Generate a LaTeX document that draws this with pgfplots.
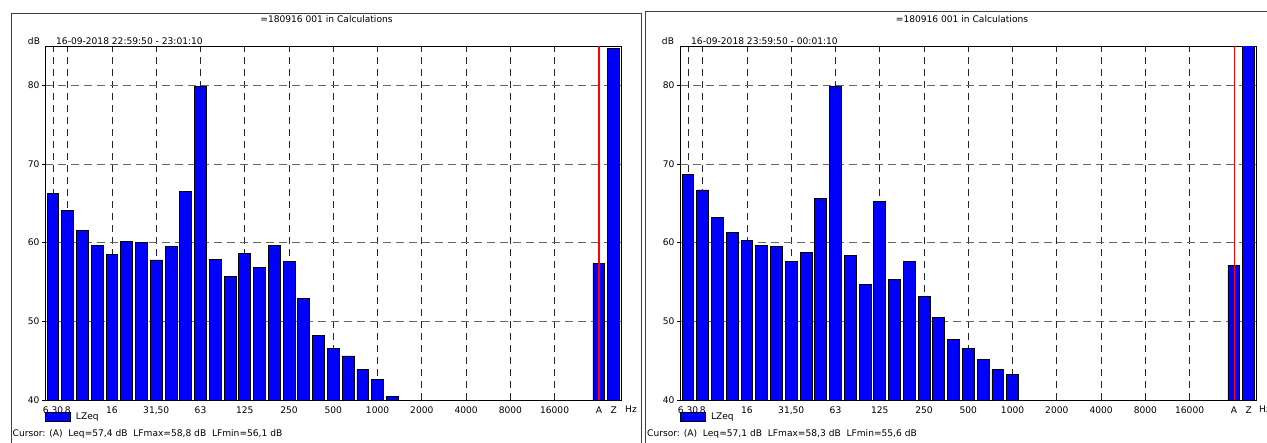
\documentclass[border=0pt]{standalone}
\usepackage{fontspec}
\setmainfont{DejaVu Sans}
\usepackage{pgfplots}
\pgfplotsset{compat=1.18}
\newcommand\f{\fontsize{9.1}{10.5}\selectfont}
\definecolor{barblue}{RGB}{0,0,255}
\definecolor{cursorred}{RGB}{255,0,0}
\pgfplotsset{
  spec/.style={
    scale only axis, width=576pt, height=354pt,
    xmin=-0.54, xmax=38.5, ymin=40, ymax=85,
    axis line style={black, line width=0.9pt},
    xtick={0,1,4,7,10,13,16,19,22,25,28,31,34},
    xticklabels={{6,30},8,16,{31,50},63,125,250,500,1000,2000,4000,8000,16000},
    extra x ticks={37,38}, extra x tick labels={A,Z},
    extra x tick style={grid=none},
    ytick={40,50,60,70,80},
    xmajorgrids, ymajorgrids,
    major x grid style={black!85, line width=0.9pt, dash pattern=on 7pt off 5pt},
    major y grid style={black!60, line width=0.9pt, dash pattern=on 8pt off 5pt},
    xtick style={draw=none},
    ytick style={black, line width=0.8pt},
    tick align=outside, major tick length=3pt,
    ytick pos=left,
    ticklabel style={font=\f},
    yticklabel style={xshift=1pt},
    /pgf/number format/assume math mode=true,
    legend style={at={(0,0)}, anchor=north west, yshift=-12pt, draw=none, fill=none,
      inner sep=0pt, font=\f, nodes={inner sep=1pt},
      /tikz/every odd column/.append style={column sep=4pt}},
  },
  bars/.style={ybar, bar width=0.8, bar shift=0pt, fill=barblue, draw=black, line width=0.8pt,
    legend image code/.code={\draw[fill=barblue,draw=black,line width=0.8pt] (0pt,-4.5pt) rectangle (25pt,4.5pt);}},
}
\begin{document}
\begin{tikzpicture}
\useasboundingbox (0pt,0pt) rectangle (1267pt,442pt);
\begin{scope}
\clip (0pt,0pt) rectangle (1267pt,442pt);
% frames
\draw[black!75, line width=0.9pt] (11pt,-5pt) -- (11pt,429pt) -- (641.7pt,429pt) -- (641.7pt,-5pt);
\draw[black!75, line width=0.9pt] (645pt,-5pt) -- (645pt,430.3pt) -- (1276pt,430.3pt) -- (1276pt,-5pt);

\begin{axis}[spec, at={(45pt,42pt)}, anchor=south west]
\addplot[bars] coordinates {
(0,66.3) (1,64.1) (2,61.6) (3,59.7) (4,58.5) (5,60.1) (6,60.0) (7,57.8) (8,59.5) (9,66.5)
(10,79.9) (11,57.9) (12,55.7) (13,58.6) (14,56.9) (15,59.7) (16,57.6) (17,52.9) (18,48.2)
(19,46.6) (20,45.6) (21,43.9) (22,42.6) (23,40.5) (37,57.4) (38,84.7)};
\addlegendentry{LZeq}
\addplot[draw=cursorred, line width=1.3pt, forget plot] coordinates {(37,40) (37,85)};
\end{axis}

\begin{axis}[spec, at={(680pt,42pt)}, anchor=south west]
\addplot[bars] coordinates {
(0,68.7) (1,66.7) (2,63.2) (3,61.3) (4,60.3) (5,59.7) (6,59.5) (7,57.6) (8,58.7) (9,65.6)
(10,79.9) (11,58.4) (12,54.7) (13,65.2) (14,55.3) (15,57.6) (16,53.2) (17,50.5) (18,47.7)
(19,46.6) (20,45.2) (21,43.9) (22,43.3) (37,57.1) (38,87)};
\addlegendentry{LZeq}
\addplot[draw=cursorred, line width=1.3pt, forget plot] coordinates {(37.02,40) (37.02,85)};
\end{axis}

% texts left
\node[font=\f] at (326.5pt,423pt) {=180916 001 in Calculations};
\node[font=\f] at (34pt,401pt) {dB};
\node[font=\f, anchor=west, inner sep=0pt] at (56pt,401pt) {16-09-2018 22:59:50 - 23:01:10};
\node[font=\f] at (631pt,33pt) {Hz};
\node[font=\f, anchor=west, inner sep=0pt] at (12.5pt,8.5pt) {Cursor: (A)\ \ Leq=57,4 dB\ \ LFmax=58,8 dB\ \ LFmin=56,1 dB};
% texts right
\node[font=\f] at (962pt,423pt) {=180916 001 in Calculations};
\node[font=\f] at (668pt,401pt) {dB};
\node[font=\f, anchor=west, inner sep=0pt] at (691pt,401pt) {16-09-2018 23:59:50 - 00:01:10};
\node[font=\f] at (1265pt,33pt) {Hz};
\node[font=\f, anchor=west, inner sep=0pt] at (647pt,8.5pt) {Cursor: (A)\ \ Leq=57,1 dB\ \ LFmax=58,3 dB\ \ LFmin=55,6 dB};
\end{scope}
\end{tikzpicture}
\end{document}
